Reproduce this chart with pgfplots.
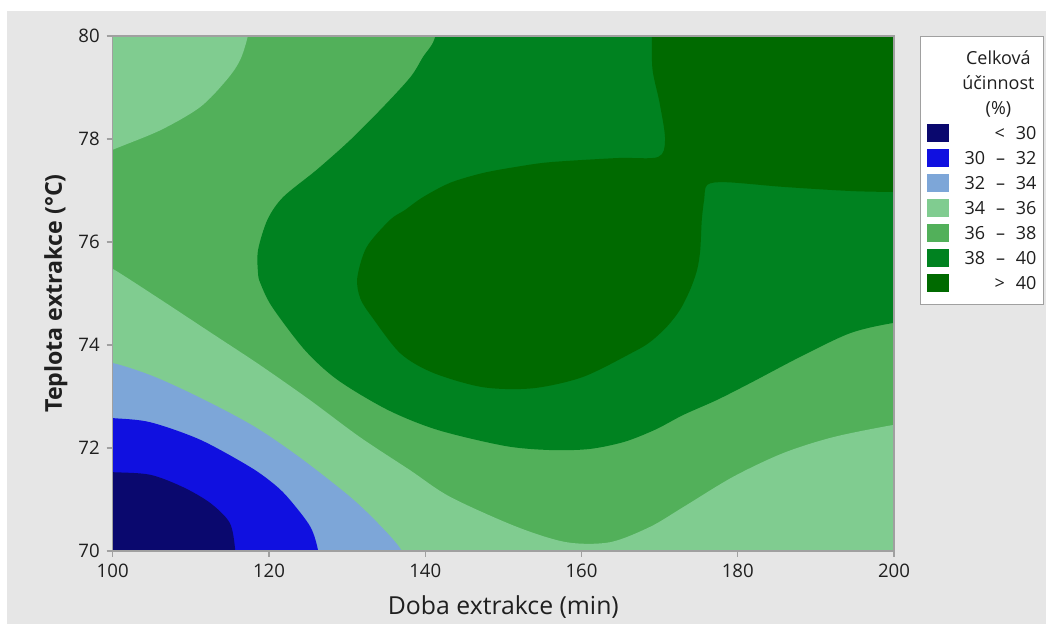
\documentclass[border=0pt]{standalone}
\usepackage{pgfplots}
\pgfplotsset{compat=1.18}
\usepackage{fontspec}
\setmainfont{Open Sans}
\definecolor{cA}{RGB}{10,8,110}
\definecolor{cB}{RGB}{16,16,224}
\definecolor{cC}{RGB}{125,166,216}
\definecolor{cD}{RGB}{128,204,144}
\definecolor{cE}{RGB}{82,176,90}
\definecolor{cF}{RGB}{0,130,32}
\definecolor{cG}{RGB}{0,106,0}
\definecolor{bg}{RGB}{230,230,230}
\definecolor{framec}{RGB}{160,160,160}
\begin{document}
\begin{tikzpicture}
\fill[white] (0,0) rectangle (523pt,312pt);
\fill[bg] (3.5pt,0) rectangle (523pt,306.5pt);
\begin{axis}[
  at={(56.35pt,36.5pt)}, anchor=south west,
  scale only axis, width=390.65pt, height=257.5pt,
  xmin=100, xmax=200, ymin=70, ymax=80,
  xtick={100,120,...,200}, ytick={70,72,...,80},
  tick align=outside, tick pos=left,
  major tick length=3pt,
  axis line style={framec, line width=0.7pt},
  every tick/.style={framec, line width=0.7pt},
  axis on top,
  ticklabel style={font=\fontsize{9.3}{11}\selectfont, text=black!88},
  /pgf/number format/assume math mode=true,
  xlabel={Doba extrakce (min)},
  ylabel={\bfseries Teplota extrakce (°C)},
  xlabel style={font=\fontsize{12.4}{14}\selectfont, text=black!88, at={(axis description cs:0.5,-0.1243)}, anchor=base},
  ylabel style={font=\fontsize{11.6}{14}\selectfont, text=black!88, at={(axis description cs:-0.0649,0.5)}, anchor=base},
  legend cell align=right,
  legend image code/.code={\fill[#1] (0pt,-4.4pt) rectangle (11pt,4.6pt);},
  legend style={at={(1.0333,1)}, anchor=north west, draw=framec, fill=white,
    font=\fontsize{9}{11}\selectfont, text=black!88,
    inner xsep=3.5pt, inner ysep=4.5pt, row sep=0pt,
    nodes={text height=7.8pt, text depth=1.5pt, inner ysep=1.6pt, inner xsep=0pt, text width=38pt, align=right},
    /tikz/every odd column/.append style={column sep=5.5pt}},
]
% base level 36-38
\addplot[fill=cE, draw=none, forget plot] coordinates {(95,65) (205,65) (205,85) (95,85)} --cycle;
% 34-36 top-left
\addplot[fill=cD, draw=none, smooth, forget plot] coordinates {
(95,77.45) (100,77.79) (106.1,78.17) (111.2,78.62) (114.6,79.15) (116.3,79.53) (117.3,80) (117.8,80.5) (118,81) (95,81)} --cycle;
% 34-36 bottom
\addplot[fill=cD, draw=none, smooth, forget plot] coordinates {
(95,75.9) (100,75.48) (106.05,74.89) (112.45,74.25) (118.85,73.61) (125.25,72.93) (131.65,72.21) (138.05,71.57) (143.2,71.05) (151.7,70.47) (158.1,70.17) (163.65,70.17) (168.8,70.47) (173.0,70.85) (179.4,71.44) (185.8,71.90) (192.2,72.21) (200,72.45) (205,72.55) (205,65) (95,65)} --cycle;
% 32-34
\addplot[fill=cC, draw=none, smooth, forget plot] coordinates {
(95,73.75) (100,73.65) (105.4,73.38) (111.8,72.93) (118.2,72.41) (124.0,71.81) (130.4,71.05) (134.2,70.50) (137.0,70) (137.8,69.5) (95,69.5)} --cycle;
% 30-32
\addplot[fill=cB, draw=none, smooth, forget plot] coordinates {
(95,72.62) (100,72.58) (104.8,72.50) (111.2,72.16) (117.6,71.63) (120.8,71.28) (122.7,70.99) (125.3,70.47) (126.3,70) (126.6,69.5) (95,69.5)} --cycle;
% <30
\addplot[fill=cA, draw=none, smooth, forget plot] coordinates {
(95,71.55) (100,71.53) (104.8,71.48) (109.0,71.24) (112.5,70.93) (115.0,70.54) (115.7,70) (115.9,69.5) (95,69.5)} --cycle;
% 38-40
\addplot[fill=cF, draw=none, smooth, forget plot] coordinates {
(141.9,81) (141.3,80) (139.7,79.59) (138.1,79.20) (134.6,78.62) (130.4,77.98) (126.1,77.40) (121.8,76.87) (119.8,76.43) (118.6,75.84) (118.6,75.40) (118.9,75.20) (120.4,74.74) (124.6,73.90) (128.8,73.32) (135.2,72.74) (141.6,72.35) (150.2,72.04) (156.0,71.96) (161.0,71.98) (165.5,72.12) (169.5,72.36) (173.0,72.64) (177.3,72.93) (181.6,73.26) (188.0,73.77) (194.4,74.23) (200,74.43) (205,74.5) (205,81)} --cycle;
% >40
\addplot[fill=cG, draw=none, smooth, forget plot] coordinates {
(168.9,81) (169.0,80) (169.1,79.34) (170.0,78.70) (170.7,77.99) (169.8,77.65) (164.6,77.63) (156.0,77.55) (151.7,77.46) (147.4,77.34) (143.2,77.15) (139.7,76.87) (137.4,76.62) (135.5,76.43) (132.5,75.90) (131.3,75.30) (131.7,74.90) (133.2,74.54) (136.8,73.84) (141.0,73.46) (147.4,73.18) (153.8,73.16) (160.2,73.38) (166.6,73.86) (168.8,74.06) (170.9,74.35) (172.6,74.68) (173.9,75.07) (174.8,75.46) (175.2,75.84) (175.4,76.43) (175.7,76.82) (176.1,77.11) (178.6,77.16) (185.8,77.07) (194.4,76.99) (200,76.97) (205,76.96) (205,81)} --cycle;
% legend
\addlegendimage{empty legend}\addlegendentry[align=center]{Celková}
\addlegendimage{empty legend}\addlegendentry[align=center]{účinnost}
\addlegendimage{empty legend}\addlegendentry[align=center]{(\%)}
\addlegendimage{fill=cA, draw=none}\addlegendentry{<\hspace{0.6em}30}
\addlegendimage{fill=cB, draw=none}\addlegendentry{30\hspace{0.6em}–\hspace{0.6em}32}
\addlegendimage{fill=cC, draw=none}\addlegendentry{32\hspace{0.6em}–\hspace{0.6em}34}
\addlegendimage{fill=cD, draw=none}\addlegendentry{34\hspace{0.6em}–\hspace{0.6em}36}
\addlegendimage{fill=cE, draw=none}\addlegendentry{36\hspace{0.6em}–\hspace{0.6em}38}
\addlegendimage{fill=cF, draw=none}\addlegendentry{38\hspace{0.6em}–\hspace{0.6em}40}
\addlegendimage{fill=cG, draw=none}\addlegendentry{>\hspace{0.6em}40}
\end{axis}
\end{tikzpicture}
\end{document}
